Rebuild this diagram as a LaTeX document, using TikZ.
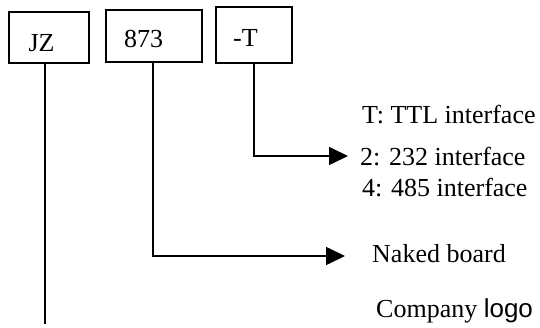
\documentclass[tikz,border=0pt]{standalone}
\usepackage{fontspec}
\setmainfont{Liberation Serif}
\newfontfamily\logofont{Liberation Sans}
\usetikzlibrary{arrows.meta}
\begin{document}
\begin{tikzpicture}[x=1pt,y=-1pt,
  box/.style={draw,line width=1.6pt,inner sep=0pt},
  txt/.style={inner sep=0pt,font=\fontsize{26}{30}\selectfont},
  conn/.style={line width=1.6pt},
  arr/.style={conn,-{Triangle[length=19pt,width=18pt]}}]
\useasboundingbox (0,0) rectangle (540,328);
% boxes
\node[box,minimum width=80pt,minimum height=51pt] (jz) at (49,37.5) {};
\node[box,minimum width=96pt,minimum height=52pt] (b873) at (154,36) {};
\node[box,minimum width=76pt,minimum height=56pt] (bt) at (254,35) {};
\node[txt,anchor=base] (jzt) at (41.5,52) {JZ};
\node[txt,anchor=base] (b873t) at (143.5,48) {873};
\node[txt,anchor=base] (btt) at (245.5,46.5) {-T};
% labels
\node[txt,anchor=base west] (i1) at (362,124) {T: TTL interface};
\node[txt,anchor=base west] (i2) at (360,166) {2: 232 interface};
\node[txt,anchor=base west] (i3) at (362,197) {4: 485 interface};
\node[txt,anchor=base west] (nb) at (372,262) {Naked board};
\node[txt,anchor=base west] (logo) at (376,317) {Company {\logofont logo}};
% connectors
\coordinate (jzend) at (45,324);
\coordinate (tip2) at (348,156);
\coordinate (tipnb) at (345,256);
\draw[conn] (jz.south -| jzend) -- (jzend);
\draw[arr] (b873.south -| 153,0) |- (tipnb);
\draw[arr] (bt.south) |- (tip2);
\end{tikzpicture}
\end{document}
